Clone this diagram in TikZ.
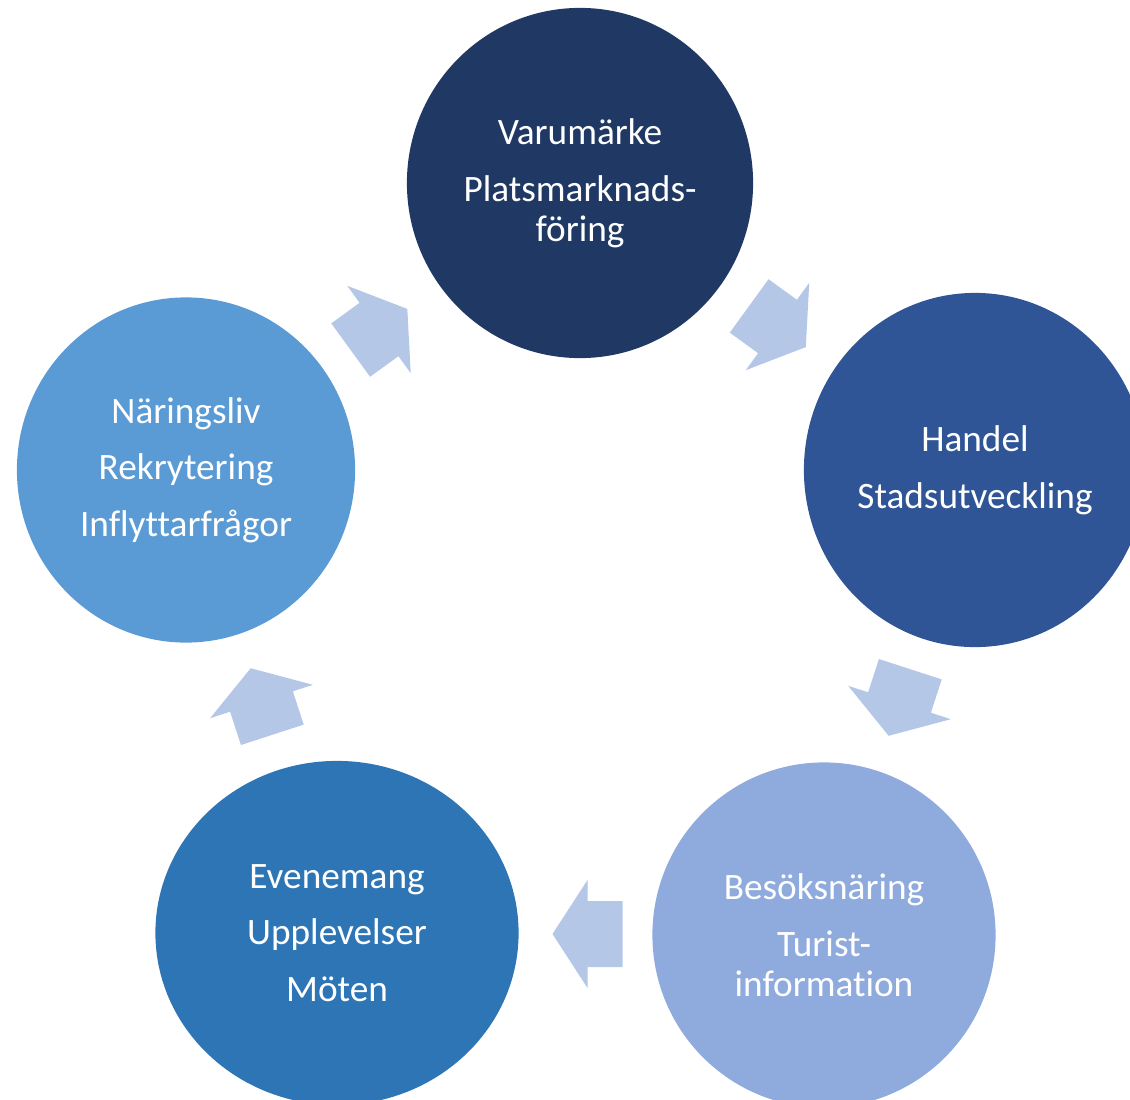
\documentclass[tikz,border=0pt]{standalone}
\usepackage{fontspec}
\setmainfont{Carlito}[Ligatures=NoCommon]
\usetikzlibrary{shapes.geometric,calc}
\definecolor{navy}{HTML}{203864}
\definecolor{royal}{HTML}{2F5597}
\definecolor{lavender}{HTML}{8FAADC}
\definecolor{steel}{HTML}{2E75B6}
\definecolor{sky}{HTML}{5B9BD5}
\definecolor{pale}{HTML}{B4C7E7}
\begin{document}
\begin{tikzpicture}[x=0.01cm, y=-0.01cm,
        disc/.style={ellipse, inner sep=0pt, text=white, align=center, font=\fontsize{10.6}{11.4}\selectfont},
        cycarrow/.pic={\fill[pale] (-35,-33) -- (0,-33) -- (0,-54) -- (35,0) -- (0,54) -- (0,33) -- (-35,33) -- cycle;}
    ]
    \useasboundingbox (0,0) rectangle (1130,1100);
    \node[disc, fill=navy, minimum width=3.46cm, minimum height=3.50cm] (varu) at (580,183) {Varumärke\\[4.7pt] Platsmarknads-\\föring};
    \node[disc, fill=royal, minimum width=3.42cm, minimum height=3.54cm] (handel) at (975,470) {Handel\\[4.7pt] Stadsutveckling};
    \node[disc, fill=lavender, minimum width=3.43cm, minimum height=3.45cm] (besok) at (824,935) {Besöksnäring\\[4.7pt] Turist-\\information};
    \node[disc, fill=steel, minimum width=3.63cm, minimum height=3.44cm] (event) at (337,933) {Evenemang\\[4.7pt] Upplevelser\\[4.7pt] Möten};
    \node[disc, fill=sky, minimum width=3.38cm, minimum height=3.45cm] (naring) at (186,470) {Näringsliv\\[4.7pt] Rekrytering\\[4.7pt] Inflyttarfrågor};
    \pic[rotate=-36] at ($(varu)!0.5!(handel)$) {cycarrow};
    \pic[rotate=-108] at ($(handel)!0.5!(besok)$) {cycarrow};
    \pic[rotate=180] at ($(besok)!0.5!(event)+(7,0)$) {cycarrow};
    \pic[rotate=108] at ($(event)!0.5!(naring)$) {cycarrow};
    \pic[rotate=36] at ($(naring)!0.5!(varu)+(-4,3)$) {cycarrow};
\end{tikzpicture}
\end{document}
